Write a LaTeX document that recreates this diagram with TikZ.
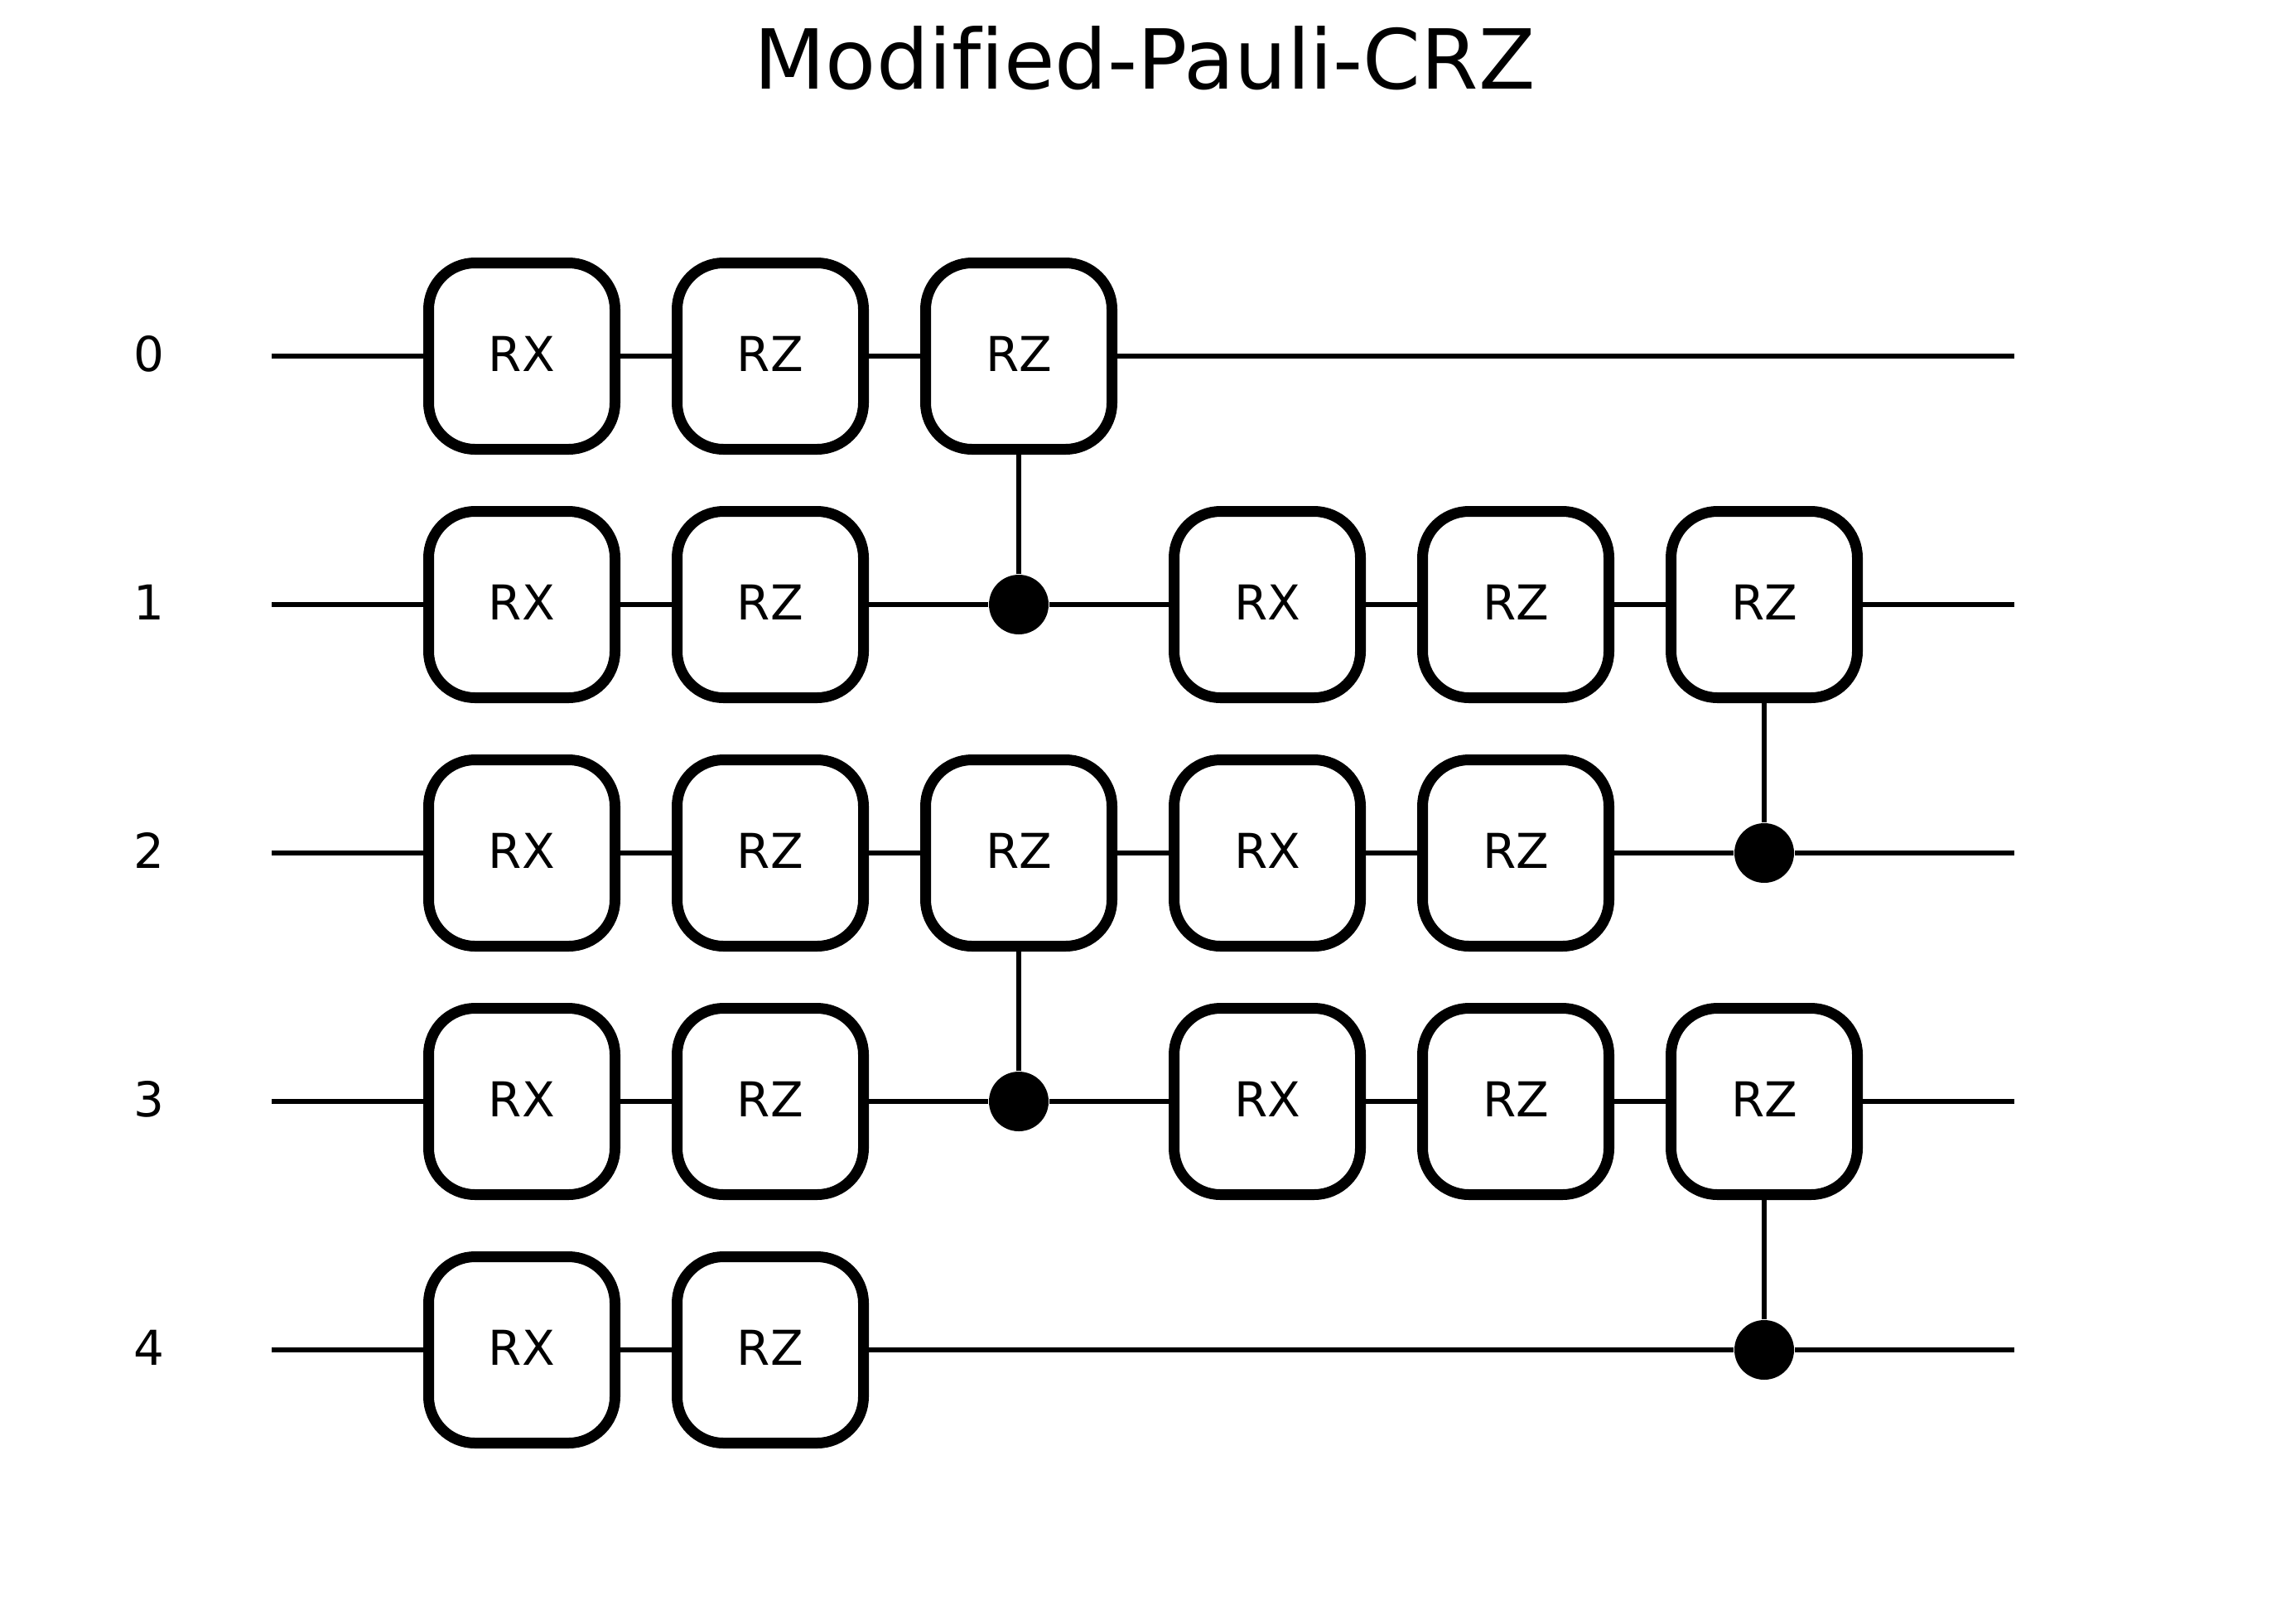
\documentclass[tikz,border=0pt]{standalone}
\usepackage{fontspec}
\setmainfont[Ligatures=NoCommon]{DejaVu Sans}
\usetikzlibrary{positioning}
\tikzset{
gate/.style={rectangle,draw,fill=white,line width=3.25pt,rounded corners=14pt,minimum size=56.25pt,inner sep=0pt,text depth=1.5pt,font=\fontsize{14.5}{17}\selectfont},
ctrl/.style={circle,fill=black,minimum size=18pt,inner sep=0pt},
wire/.style={line width=1.5pt},
qlabel/.style={inner sep=0pt,text depth=1.5pt,font=\fontsize{14.5}{17}\selectfont}
}

\begin{document}
\begin{tikzpicture}[node distance=15.5pt]
\useasboundingbox (0,0) rectangle (690pt,-490pt);
\node[anchor=base,inner sep=0pt,font=\fontsize{25}{30}\selectfont] (title) at (345.5pt,-26.75pt) {Modified-Pauli-CRZ};

% the gates, row by row
\node[gate] (q0rx) at (157.5pt,-107.5pt) {RX};
\node[gate,right=of q0rx] (q0rz) {RZ};
\node[gate,right=of q0rz] (q0crz) {RZ};

\node[gate,below=of q0rx] (q1rx) {RX};
\node[gate,right=of q1rx] (q1rz) {RZ};

\node[gate,below=of q1rx] (q2rx) {RX};
\node[gate,right=of q2rx] (q2rz) {RZ};
\node[gate,right=of q2rz] (q2crz) {RZ};
\node[gate,right=of q2crz] (q2rxb) {RX};
\node[gate,right=of q2rxb] (q2rzb) {RZ};

\node[gate,below=of q2rx] (q3rx) {RX};
\node[gate,right=of q3rx] (q3rz) {RZ};

\node[gate,below=of q3rx] (q4rx) {RX};
\node[gate,right=of q4rx] (q4rz) {RZ};

\node[gate,above=of q2rxb] (q1rxb) {RX};
\node[gate,right=of q1rxb] (q1rzb) {RZ};
\node[gate,right=of q1rzb] (q1crz) {RZ};

\node[gate,below=of q2rxb] (q3rxb) {RX};
\node[gate,right=of q3rxb] (q3rzb) {RZ};
\node[gate,right=of q3rzb] (q3crz) {RZ};

% the control dots
\node[ctrl] (c1) at (q0crz |- q1rx) {};
\node[ctrl] (c3) at (q2crz |- q3rx) {};
\node[ctrl] (c2) at (q1crz |- q2rx) {};
\node[ctrl] (c4) at (q3crz |- q4rx) {};

% the labels and the free wire ends
\node[qlabel] (l0) at ([xshift=-112.5pt]q0rx) {0};
\node[qlabel] (l1) at ([xshift=-112.5pt]q1rx) {1};
\node[qlabel] (l2) at ([xshift=-112.5pt]q2rx) {2};
\node[qlabel] (l3) at ([xshift=-112.5pt]q3rx) {3};
\node[qlabel] (l4) at ([xshift=-112.5pt]q4rx) {4};
\coordinate (s0) at ([xshift=-75.5pt]q0rx);
\coordinate (s1) at ([xshift=-75.5pt]q1rx);
\coordinate (s2) at ([xshift=-75.5pt]q2rx);
\coordinate (s3) at ([xshift=-75.5pt]q3rx);
\coordinate (s4) at ([xshift=-75.5pt]q4rx);
\coordinate (e0) at ([xshift=450.5pt]q0rx);
\coordinate (e1) at ([xshift=450.5pt]q1rx);
\coordinate (e2) at ([xshift=450.5pt]q2rx);
\coordinate (e3) at ([xshift=450.5pt]q3rx);
\coordinate (e4) at ([xshift=450.5pt]q4rx);

% the wires
\draw[wire] (s0) -- (q0rx) -- (q0rz) -- (q0crz) -- (e0);
\draw[wire] (s1) -- (q1rx) -- (q1rz) -- (c1) -- (q1rxb) -- (q1rzb) -- (q1crz) -- (e1);
\draw[wire] (s2) -- (q2rx) -- (q2rz) -- (q2crz) -- (q2rxb) -- (q2rzb) -- (c2) -- (e2);
\draw[wire] (s3) -- (q3rx) -- (q3rz) -- (c3) -- (q3rxb) -- (q3rzb) -- (q3crz) -- (e3);
\draw[wire] (s4) -- (q4rx) -- (q4rz) -- (c4) -- (e4);

% the control lines
\draw[wire] (q0crz) -- (c1);
\draw[wire] (q2crz) -- (c3);
\draw[wire] (q1crz) -- (c2);
\draw[wire] (q3crz) -- (c4);
\end{tikzpicture}
\end{document}
